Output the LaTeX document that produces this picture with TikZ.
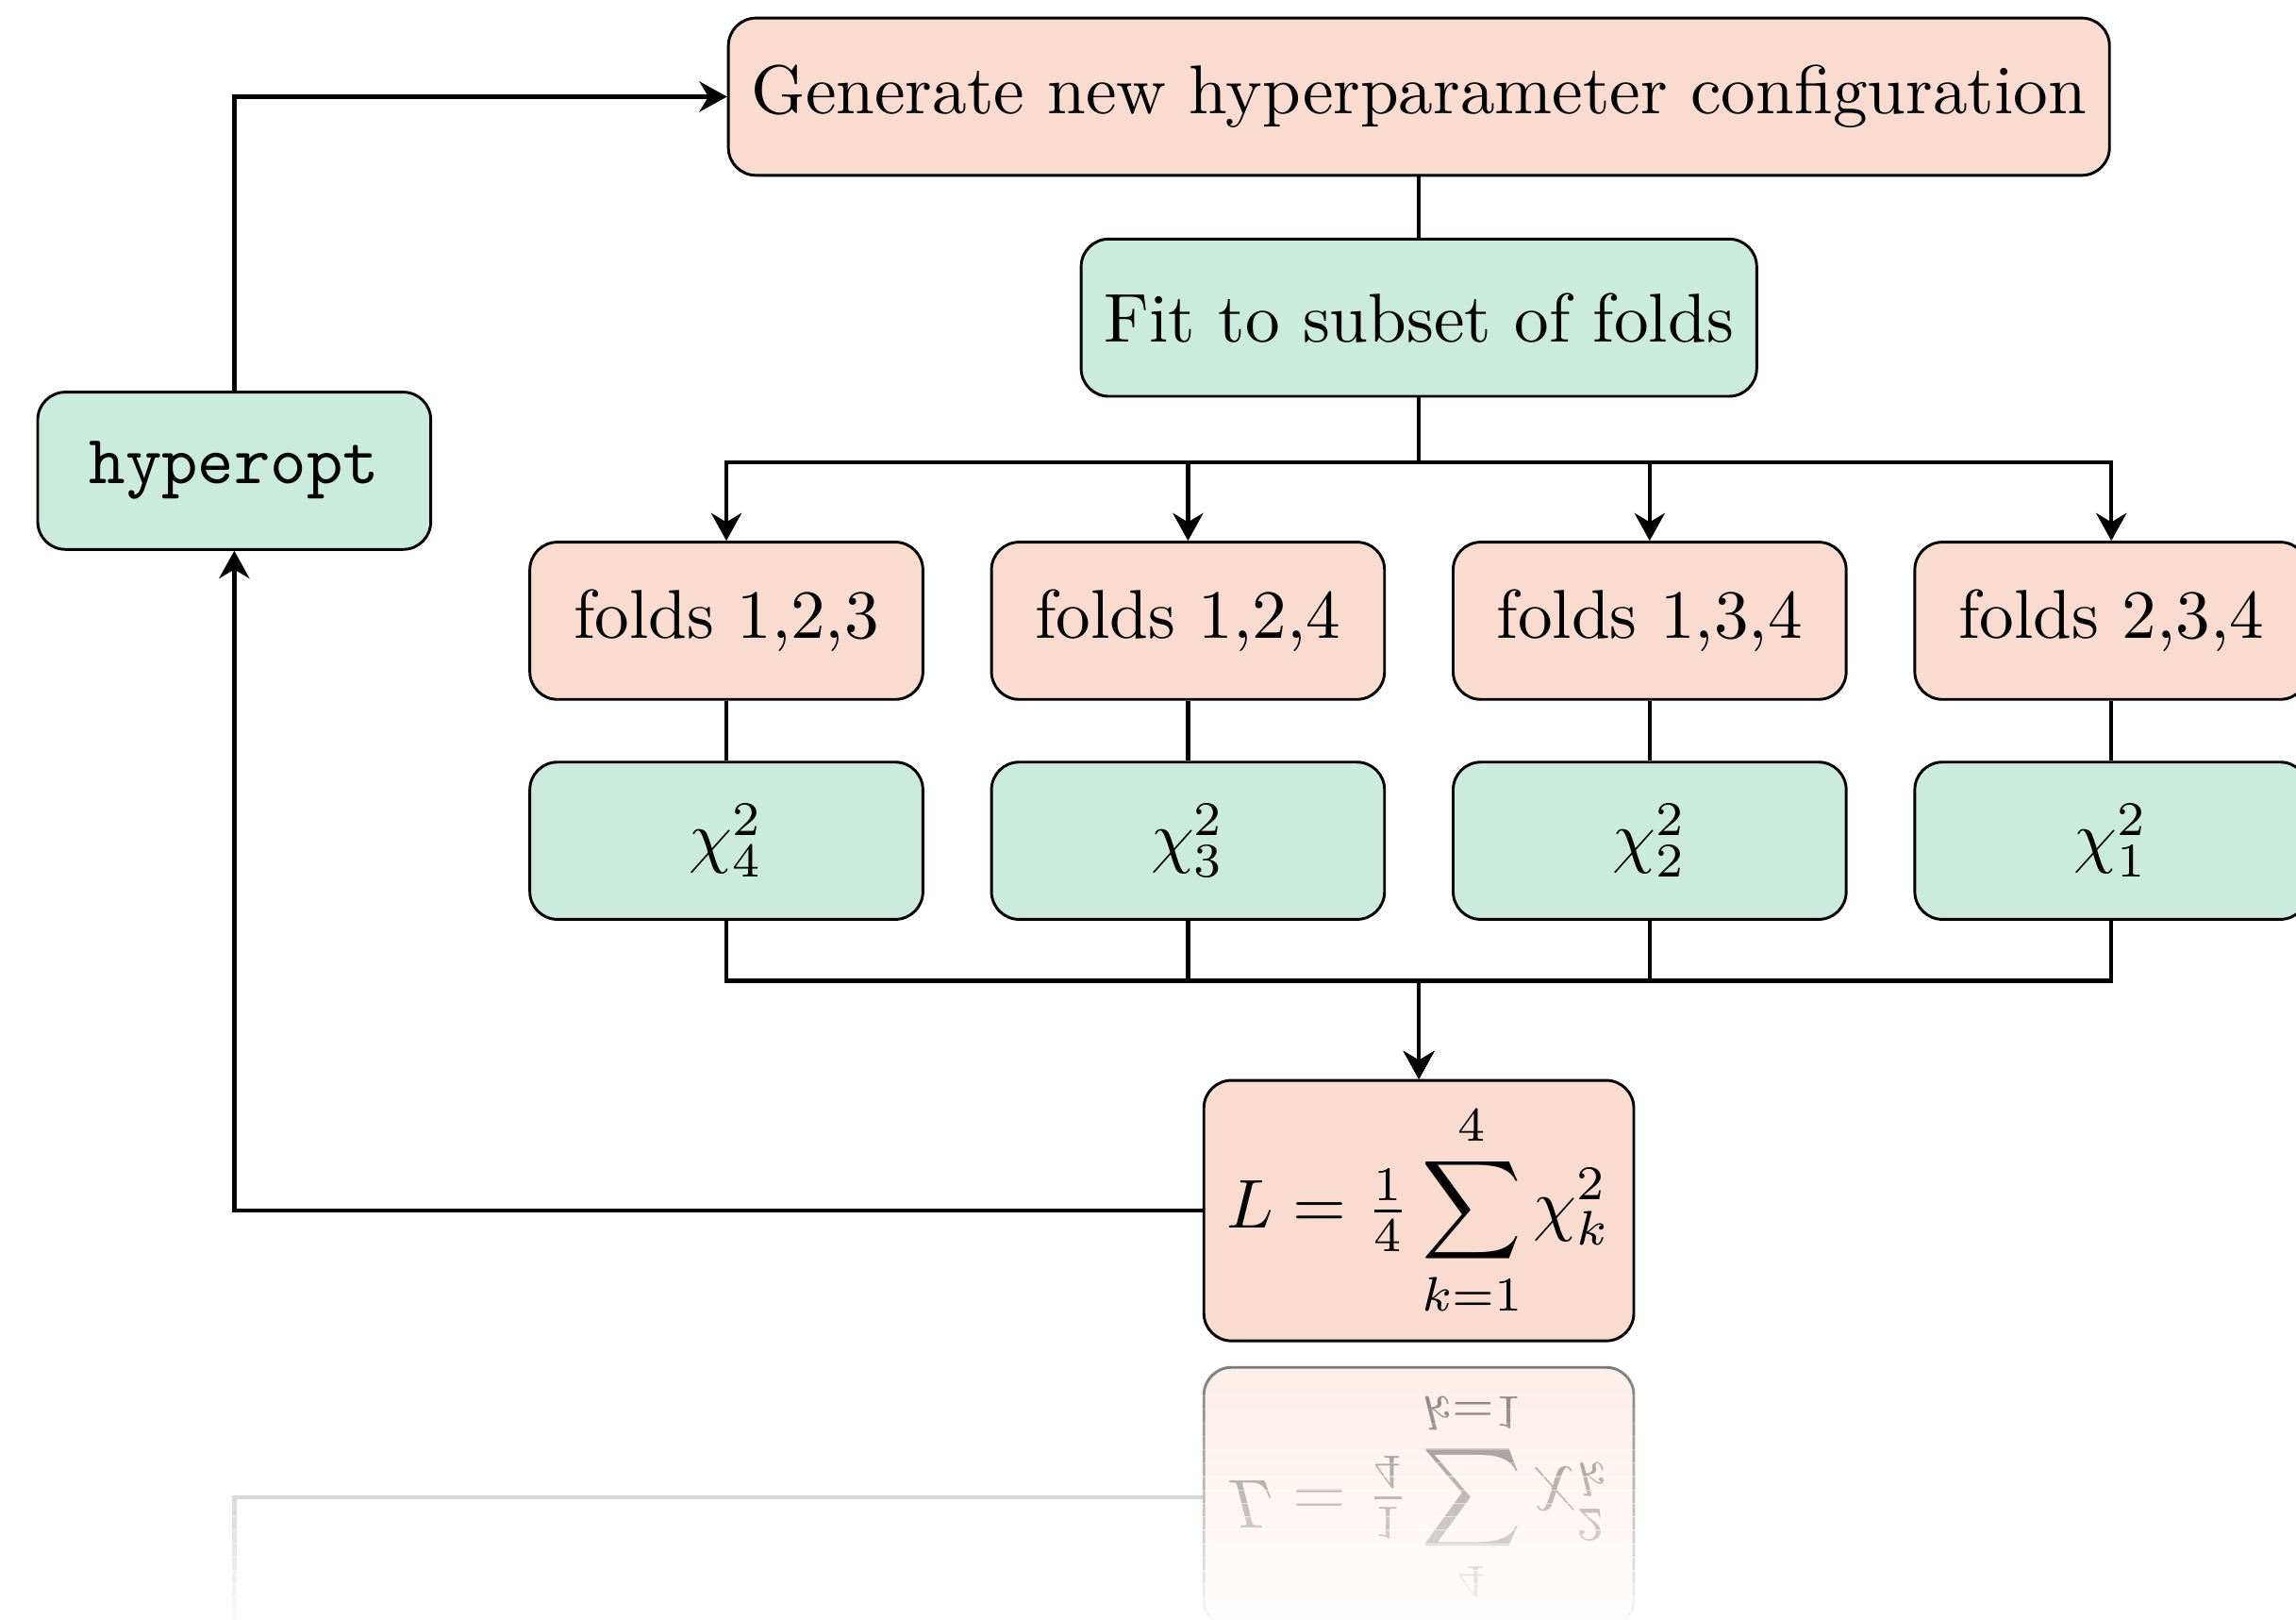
\documentclass[tikz,border=0pt]{standalone}
\usepackage{amsmath}
\usepackage{tikz}
\usetikzlibrary{arrows.meta,calc,positioning}
\definecolor{boxpink}{RGB}{249,219,208}
\definecolor{boxgreen}{RGB}{204,235,223}

\begin{document}
\begin{tikzpicture}[
  box/.style={draw, rounded corners, minimum width=2cm, minimum height=0.8cm, align=center},
  pinkbox/.style={box, fill=boxpink},
  greenbox/.style={box, fill=boxgreen},
  line/.style={semithick},
  arr/.style={-{Stealth[length=4pt, width=4.4pt, inset=1.3pt]}, semithick}
]
\useasboundingbox (0,0) rectangle (11.683,-8.241);

\node[pinkbox] (gen) at (7.22,-0.492) {Generate new hyperparameter configuration};
\node[greenbox, below=0.31cm of gen] (fit) {Fit to subset of folds};
\node[greenbox] (hyp) at (1.192,-2.395) {\texttt{hyperopt}};

\node[pinkbox, below=0.728cm of fit, xshift=-3.524cm] (f1) {folds 1,2,3};
\node[pinkbox, right=0.335cm of f1] (f2) {folds 1,2,4};
\node[pinkbox, right=0.335cm of f2] (f3) {folds 1,3,4};
\node[pinkbox, right=0.335cm of f3] (f4) {folds 2,3,4};

\node[greenbox, below=0.305cm of f1] (c1) {$\chi^2_4$};
\node[greenbox, below=0.305cm of f2] (c2) {$\chi^2_3$};
\node[greenbox, below=0.305cm of f3] (c3) {$\chi^2_2$};
\node[greenbox, below=0.305cm of f4] (c4) {$\chi^2_1$};

\coordinate (mid) at ($(c2.south)!0.5!(c3.south)$);
\node[pinkbox, below=0.805cm of mid] (loss) {$L = \frac{1}{4}\displaystyle\sum_{k=1}^{4}\chi_k^2$};

\draw[line] (gen) -- (fit);
\foreach \i in {1,...,4} {
  \draw[arr] (fit.south) -- ++(0,-0.33) -| (f\i.north);
  \draw[line] (f\i) -- (c\i);
  \draw[arr] (c\i.south) -- ++(0,-0.305) -| (loss.north);
}
\draw[arr] (loss.west) -| (hyp.south);
\draw[arr] (hyp.north) |- (gen.west);

% reflection below the loss box
\coordinate (axis) at ($(loss.south)+(0,-0.067)$);
\begin{scope}[shift={($(loss)+(0,-1.46)$)}, yscale=-1, transform shape, opacity=0.5]
  \node[pinkbox] (lossR) at (0,0) {$L = \frac{1}{4}\displaystyle\sum_{k=1}^{4}\chi_k^2$};
\end{scope}
\coordinate (hypR) at ($(hyp.south)+(0,-8.15)$);
\draw[line, opacity=0.3] (lossR.west) -| (hypR);
\begin{scope}[shift={(axis)}]
  \foreach \k [evaluate=\k as \op using \k/20] in {0,...,19}
    \fill[white, opacity=\op] (-8,{-\k*0.0682}) rectangle (8,{-(\k+1)*0.0682-0.005});
\end{scope}
\end{tikzpicture}
\end{document}
